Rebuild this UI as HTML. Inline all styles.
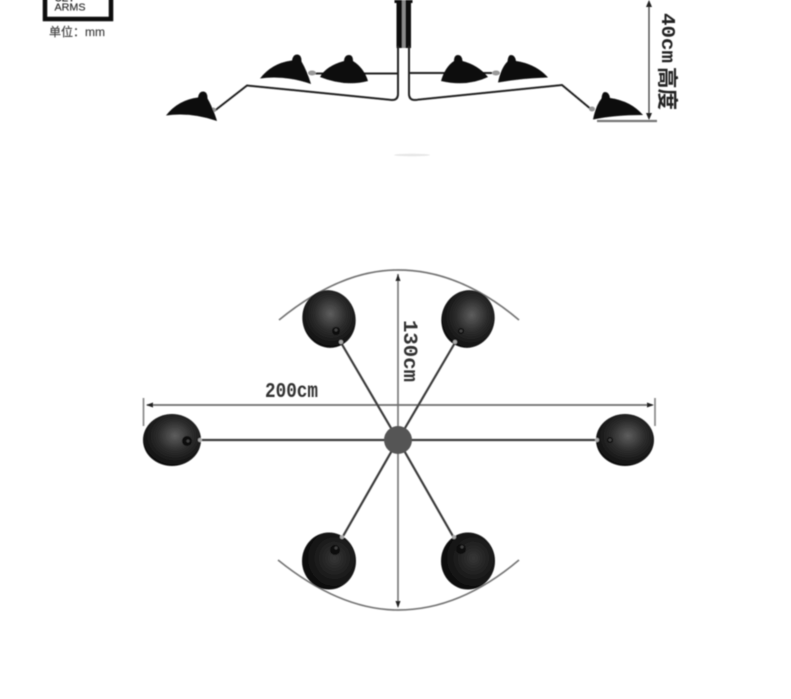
<!DOCTYPE html>
<html>
<head>
<meta charset="utf-8">
<style>
html,body{margin:0;padding:0;background:#fff;width:791px;height:699px;overflow:hidden}
svg{display:block}
</style>
</head>
<body>
<svg width="791" height="699" viewBox="0 0 791 699" xmlns="http://www.w3.org/2000/svg">
<defs>
<filter id="b" x="-5%" y="-5%" width="110%" height="110%"><feGaussianBlur stdDeviation="0.6"/></filter>
<radialGradient id="tl" cx="0.55" cy="0.42" r="0.62"><stop offset="0" stop-color="#5e5e5e"/><stop offset="0.45" stop-color="#2e2e2e"/><stop offset="1" stop-color="#0a0a0a"/></radialGradient>
<radialGradient id="bm" cx="0.6" cy="0.45" r="0.6"><stop offset="0" stop-color="#363636"/><stop offset="0.6" stop-color="#1a1a1a"/><stop offset="1" stop-color="#0a0a0a"/></radialGradient>
<path id="lamp" d="M166 115.500 Q178 100 198 97.500 Q199 91.500 203 91.500 Q207.500 91.500 207.500 98.500 Q213 108 217 121 Q191 112 166 115.500Z"/>
</defs>
<rect width="791" height="699" fill="#fff"/>
<g filter="url(#b)">
<!-- legend -->
<path d="M45 -4V19H111V-4" fill="none" stroke="#0c0c0c" stroke-width="4.500"/>
<text x="54.500" y="10.500" font-family="Liberation Sans, sans-serif" font-size="10.500" fill="#333" textLength="31" lengthAdjust="spacingAndGlyphs" stroke="#333" stroke-width="0.200">ARMS</text>
<text x="55" y="1.500" font-family="Liberation Sans, sans-serif" font-size="10" fill="#333" font-weight="bold">SET</text>
<text x="49" y="36" font-family="Liberation Sans, 'Noto Sans CJK SC', sans-serif" font-size="12" fill="#444" stroke="#444" stroke-width="0.200" textLength="56" lengthAdjust="spacingAndGlyphs">单位：mm</text>

<!-- stem -->
<rect x="394.500" y="0" width="18" height="3" fill="#0c0c0c"/>
<rect x="396.500" y="0" width="5.500" height="48" fill="#111"/>
<rect x="405.500" y="0" width="5.500" height="48" fill="#111"/>
<rect x="402" y="0" width="3.500" height="48" fill="#8a8a8a"/>
<!-- arms top -->
<g fill="none" stroke="#222" stroke-width="2">
<path d="M213 112 L247 85.500 L392 100 Q398 100 398 94 V46"/>
<path d="M409 46 V94 Q409 100 415 100 L562 85 L592 110"/>
<path d="M310 73.500 H398"/>
<path d="M409 73 H492"/>
</g>
<ellipse cx="312" cy="73" rx="4" ry="2.500" fill="#999"/>
<ellipse cx="496" cy="73" rx="4" ry="2.500" fill="#999"/>
<ellipse cx="213" cy="110" rx="3" ry="2.500" fill="#999"/>
<ellipse cx="592" cy="109" rx="3" ry="2.500" fill="#999"/>
<!-- lamps top -->
<use href="#lamp" fill="#0c0c0c"/>
<use href="#lamp" fill="#0c0c0c" transform="translate(94 -37)"/>
<path d="M320 77 Q326 66 344 61 Q344.500 55 349 55 Q353 55 353 61 Q364 68 368 81 Q345 87 320 77Z" fill="#111"/>
<path d="M441 81 Q445 67 454 61 Q454 55 458 55 Q462 55 462.500 61 Q478 65 488 77 Q467 87 441 81Z" fill="#111"/>
<path d="M498 82.500 Q501 68 507.500 61.500 Q508 55 511 55 Q515 55 516 61 Q536 64 548 77.500 Q522 78 498 82.500Z" fill="#0c0c0c"/>
<path d="M593 119.500 Q596 105 601.500 98.500 Q602 92 605 92 Q609 92 610 98 Q631 101 643 115 Q615 115 593 119.500Z" fill="#0c0c0c"/>
<!-- height dim -->
<path d="M649 2 V118" stroke="#555" stroke-width="1.500" fill="none"/>
<path d="M649 0 L646 7 H652Z" fill="#222"/>
<path d="M649 120 L646 113 H652Z" fill="#222"/>
<path d="M597 121 H657" stroke="#777" stroke-width="2.200" fill="none"/>
<text transform="translate(662 13) rotate(90)" font-family="Liberation Mono, monospace" font-weight="bold" font-size="19" fill="#222" textLength="50" lengthAdjust="spacingAndGlyphs">40cm</text>
<text transform="translate(660 67) rotate(90)" font-family="'Noto Sans CJK SC', sans-serif" font-weight="bold" font-size="21" fill="#222" textLength="43" lengthAdjust="spacingAndGlyphs">高度</text>
<ellipse cx="412" cy="155" rx="18" ry="1.200" fill="#e6e6e6"/>

<!-- plan arcs -->
<g fill="none" stroke="#777" stroke-width="1.700">
<path d="M279 320 Q340 270 398 270 Q460 270 519 320"/>
<path d="M278 560 Q340 610 398 610 Q460 610 519 560"/>
</g>
<!-- dims -->
<path d="M398 274 V606" stroke="#808080" stroke-width="1.800" fill="none"/>
<path d="M398 274 L395.500 281 H400.500Z" fill="#222"/>
<path d="M398 608 L395.500 601 H400.500Z" fill="#222"/>
<path d="M147 405 H652" stroke="#6e6e6e" stroke-width="1.700" fill="none"/>
<path d="M146 405 L153 402.500 V407.500Z" fill="#222"/>
<path d="M654 405 L647 402.500 V407.500Z" fill="#222"/>
<path d="M143.500 398 V426 M655 398 V426" stroke="#888" stroke-width="1.700" fill="none"/>
<text x="265" y="397" font-family="Liberation Mono, monospace" font-weight="bold" font-size="21" fill="#333" textLength="53" lengthAdjust="spacingAndGlyphs">200cm</text>
<text transform="translate(404 320) rotate(90)" font-family="Liberation Mono, monospace" font-weight="bold" font-size="20" fill="#333" textLength="62" lengthAdjust="spacingAndGlyphs">130cm</text>
<!-- plan arms -->
<g fill="none" stroke="#3e3e3e" stroke-width="2.200">
<path d="M200 440 H600"/>
<path d="M340 341 L398 440 L456 341"/>
<path d="M342 538 L398 440 L454 538"/>
</g>
<circle cx="398" cy="440" r="14" fill="#555"/>
<!-- balls -->
<ellipse cx="329" cy="319" rx="26.500" ry="29" fill="url(#tl)" transform="rotate(-15 329 319)"/>
<ellipse cx="468" cy="319" rx="26.500" ry="29" fill="url(#tl)" transform="rotate(15 468 319)"/>
<ellipse cx="172" cy="440" rx="29" ry="26" fill="url(#tl)"/>
<ellipse cx="625" cy="440" rx="29" ry="26" fill="url(#tl)"/>
<ellipse cx="329" cy="561" rx="27" ry="28.500" fill="url(#bm)"/>
<ellipse cx="468" cy="561" rx="27" ry="28.500" fill="url(#bm)"/>
<!-- sockets -->
<g fill="#0c0c0c"><circle cx="336" cy="331" r="4"/><circle cx="461" cy="331" r="3"/><circle cx="187" cy="441" r="5"/><circle cx="610" cy="440" r="3"/><circle cx="335" cy="550" r="5"/><circle cx="461" cy="549" r="5"/></g>
<g fill="#444"><circle cx="336" cy="330" r="1.500"/><circle cx="461" cy="331" r="1.500"/><circle cx="188" cy="441" r="1.500"/><circle cx="610" cy="440" r="1.500"/><circle cx="336" cy="548" r="1.500"/><circle cx="462" cy="547" r="1.500"/></g>
<g fill="#aaa"><circle cx="341" cy="342" r="2"/><circle cx="455" cy="342" r="2"/><circle cx="200" cy="440" r="2"/><circle cx="597" cy="440" r="2"/><circle cx="342" cy="537" r="2"/><circle cx="454" cy="537" r="2"/></g>
</g>
</svg>
</body>
</html>
